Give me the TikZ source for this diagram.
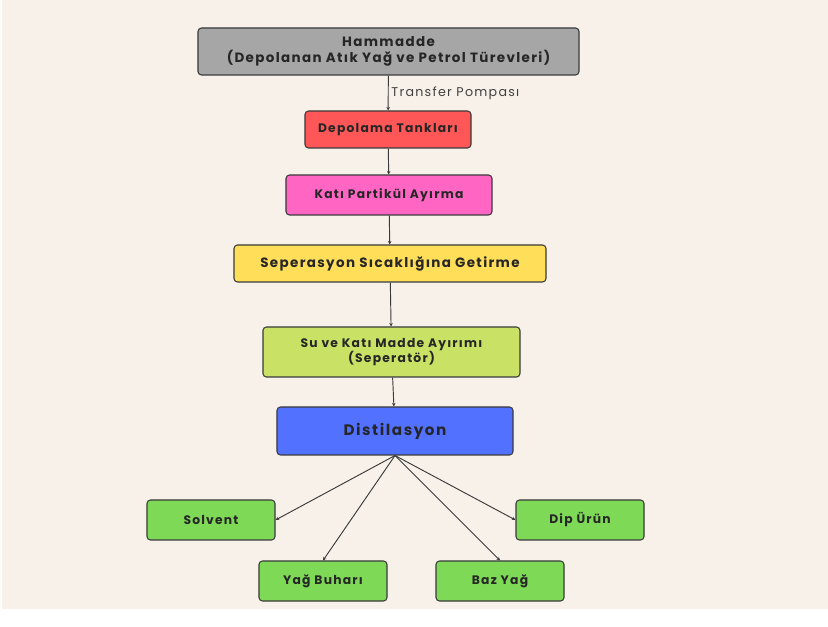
\documentclass[tikz,border=0pt]{standalone}
\usepackage{fontspec}
\setmainfont{Poppins}[LetterSpace=10]
\usepackage{xcolor}
\usetikzlibrary{positioning,arrows.meta}
\definecolor{zemin}{HTML}{F8F1EA}
\definecolor{gri}{HTML}{A6A6A6}
\definecolor{kirmizi}{HTML}{FF5757}
\definecolor{pembe}{HTML}{FF66C4}
\definecolor{sari}{HTML}{FFDE59}
\definecolor{limon}{HTML}{C9E265}
\definecolor{mavi}{HTML}{5271FF}
\definecolor{yesil}{HTML}{7ED957}
\definecolor{cizgi}{HTML}{3A3A3A}

\begin{document}
\begin{tikzpicture}[x=0.03cm, y=-0.03cm, font=\fontsize{10.5}{13}\selectfont\bfseries,
  kutu/.style={draw=cizgi, line width=0.9pt, rounded corners=3pt, align=center, inner sep=2pt, text=black!85},
  urun/.style={kutu, fill=yesil, minimum width=3.84cm, minimum height=1.2cm, font=\fontsize{10.5}{13}\selectfont\bfseries},
  ok/.style={-{Stealth[length=3pt,width=3pt]}, draw=cizgi, line width=0.8pt}]
\useasboundingbox (0,0) rectangle (828,627);
\fill[white] (0,0) rectangle (828,627);
\fill[zemin] (2,0) rectangle (828,609);
% ana hat
\node[kutu, fill=gri, minimum width=11.43cm, minimum height=1.41cm, font=\fontsize{11.5}{13.5}\selectfont\bfseries] (ham) at (388.5,51.5) {Hammadde\\(Depolanan Atık Yağ ve Petrol Türevleri)};
\node[kutu, fill=kirmizi, minimum width=4.98cm, minimum height=1.11cm] (depo) at (388,129.5) {Depolama Tankları};
\node[kutu, fill=pembe, minimum width=6.18cm, minimum height=1.2cm] (kati) at (389,195) {Katı Partikül Ayırma};
\node[kutu, fill=sari, minimum width=9.36cm, minimum height=1.11cm, font=\fontsize{11.5}{13.5}\selectfont\bfseries] (sep) at (390,263.5) {Seperasyon Sıcaklığına Getirme};
\node[kutu, fill=limon, minimum width=7.71cm, minimum height=1.5cm] (su) at (391.5,352) {Su ve Katı Madde Ayırımı\\(Seperatör)};
\node[kutu, fill=mavi, minimum width=7.08cm, minimum height=1.44cm, font=\fontsize{13}{15}\selectfont\bfseries] (dist) at (395,431) {Distilasyon};
% urunler
\node[urun] (solv) at (211,520) {Solvent};
\node[urun] (dip) at (580,520) {Dip Ürün};
\node[urun] (buhar) at (323,581) {Yağ Buharı};
\node[urun] (baz) at (500,581) {Baz Yağ};
\draw[ok] (ham) -- node[right, font=\fontsize{10.8}{12}\selectfont\mdseries, text=black!75, xshift=-1pt] {Transfer Pompası} (depo);
\draw[ok] (depo) -- (kati); \draw[ok] (kati) -- (sep); \draw[ok] (sep) -- (su); \draw[ok] (su) -- (dist);
\draw[ok] (dist.south) -- (solv.east); \draw[ok] (dist.south) -- (buhar.north);
\draw[ok] (dist.south) -- (baz.north); \draw[ok] (dist.south) -- (dip.west);
\end{tikzpicture}
\end{document}
